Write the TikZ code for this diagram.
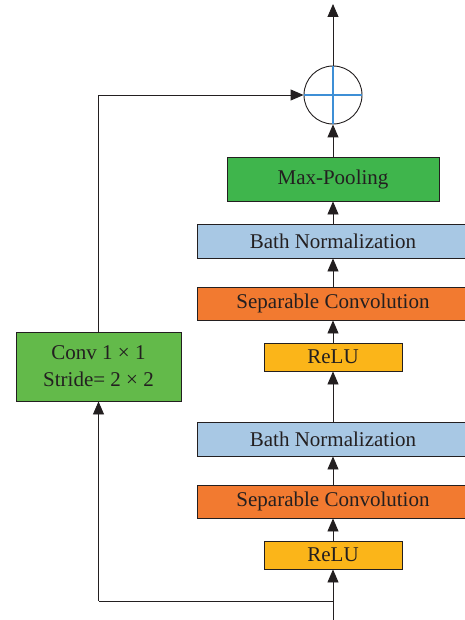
\documentclass[tikz,border=0pt]{standalone}
\usepackage{fontspec}
\setmainfont{Liberation Serif}
\usetikzlibrary{arrows.meta}
\definecolor{poolgreen}{HTML}{3FB54C}
\definecolor{convgreen}{HTML}{63BA4A}
\definecolor{bnblue}{HTML}{A8C8E4}
\definecolor{sconv}{HTML}{F27A30}
\definecolor{relu}{HTML}{FBB519}
\definecolor{edge}{HTML}{231F20}
\definecolor{crossblue}{HTML}{3E8FD6}
\tikzset{
  lbl/.style={font=\fontsize{21}{24}\selectfont, text=edge},
  blk/.style={draw=edge, line width=0.9pt, inner sep=0pt, lbl},
  flow/.style={draw=edge, line width=0.9pt, -{Triangle[width=11pt,length=13pt]}},
  wire/.style={draw=edge, line width=0.9pt},
}
\begin{document}
\begin{tikzpicture}[x=1pt,y=-1pt]
\useasboundingbox (0,0) rectangle (464,620);
% main column blocks (wide bars run past the right edge)
\node[blk, fill=poolgreen, minimum width=212pt, minimum height=44pt] (pool) at (333,179) {Max-Pooling};
\node[blk, fill=bnblue, minimum width=270pt, minimum height=34pt, anchor=west] (bn1) at (197,241) {};
\node[lbl] (bn1t) at (333,241) {Bath Normalization};
\node[blk, fill=sconv, minimum width=270pt, minimum height=33pt, anchor=west] (sc1) at (197,303.5) {};
\node[lbl] (sc1t) at (333,303.5) {Separable Convolution};
\node[blk, fill=relu, minimum width=138pt, minimum height=28pt] (r1) at (333,357) {ReLU};
\node[blk, fill=bnblue, minimum width=270pt, minimum height=34pt, anchor=west] (bn2) at (197,439) {};
\node[lbl] (bn2t) at (333,439) {Bath Normalization};
\node[blk, fill=sconv, minimum width=270pt, minimum height=33pt, anchor=west] (sc2) at (197,501.5) {};
\node[lbl] (sc2t) at (333,501.5) {Separable Convolution};
\node[blk, fill=relu, minimum width=138pt, minimum height=28pt] (r2) at (333,555) {ReLU};
% shortcut branch
\node[blk, fill=convgreen, minimum width=165pt, minimum height=69pt, align=center] (conv) at (98.5,366.5) {Conv 1 × 1\\[3pt]Stride= 2 × 2};
% addition node
\node[draw=edge, line width=0.9pt, circle, minimum size=58pt, inner sep=0pt] (add) at (333,95) {};
\draw[crossblue, line width=1.2pt] (add.west) -- (add.east) (add.north) -- (add.south);
% coordinates
\coordinate (in) at (333,620);
\coordinate (split) at (333,601);
\coordinate (lb) at (98.5,601);
\coordinate (lt) at (98.5,95);
\coordinate (out) at (333,4);
% connectors
\draw[wire] (in) -- (split);
\draw[flow] (split) -- (r2.south);
\draw[flow] (r2.north) -- (sc2.south -| r2.north);
\draw[flow] (sc2.north -| r2.north) -- (bn2.south -| r2.north);
\draw[flow] (bn2.north -| r2.north) -- (r1.south);
\draw[flow] (r1.north) -- (sc1.south -| r1.north);
\draw[flow] (sc1.north -| r1.north) -- (bn1.south -| r1.north);
\draw[flow] (bn1.north -| r1.north) -- (pool.south);
\draw[flow] (pool.north) -- (add.south);
\draw[flow] (add.north) -- (out);
\draw[wire] (split) -- (lb);
\draw[flow] (lb) -- (conv.south);
\draw[wire] (conv.north) -- (lt);
\draw[flow] (lt) -- (add.west);
\end{tikzpicture}
\end{document}
